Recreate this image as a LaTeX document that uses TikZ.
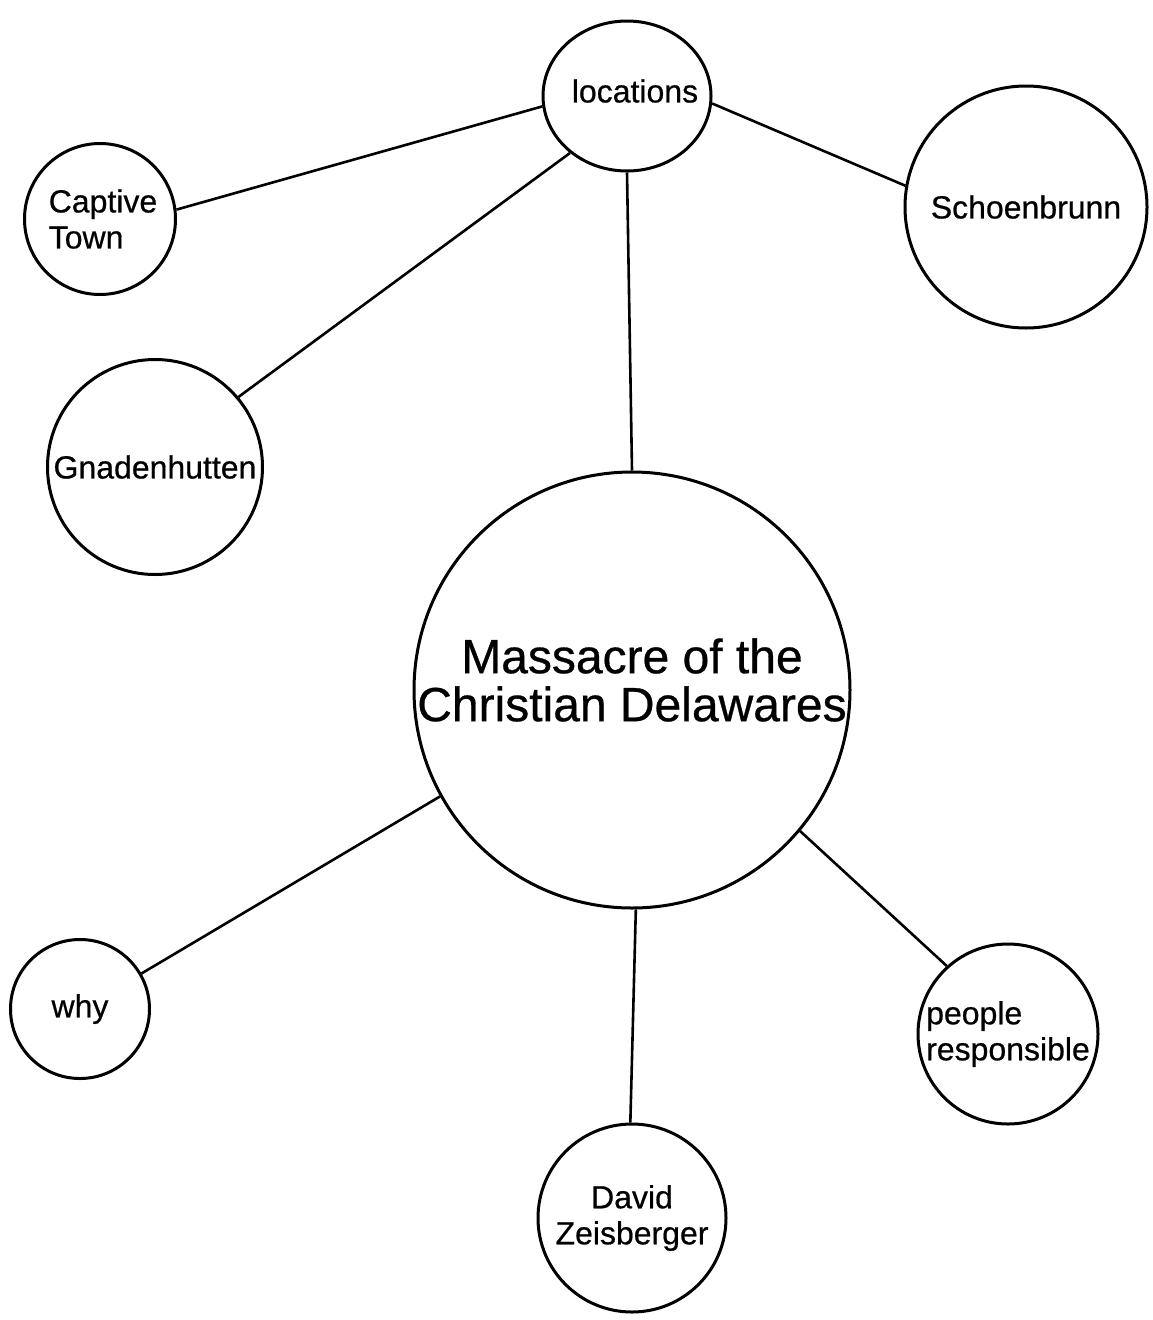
\documentclass[tikz,border=0pt]{standalone}
\usepackage{fontspec}
\setmainfont{Liberation Sans}[FakeBold=0.6]
\usetikzlibrary{shapes.geometric}
\begin{document}
\begin{tikzpicture}[x=1pt,y=-1pt,
  bubble/.style={draw, circle, line width=3pt, inner sep=0pt, align=center,
    font=\fontsize{32}{36}\selectfont},
  label text/.style={inner sep=0pt, align=center},
  link/.style={line width=2.6pt}]
\useasboundingbox (0,0) rectangle (1152,1320);
\fill[white] (0,0) rectangle (1152,1320);

% central topic: outline and title set separately so the title may fill it
\node[bubble, minimum size=436pt] (main) at (632,690) {};
\node[label text, font=\fontsize{48}{48}\selectfont] (maintext) at (632,680)
  {Massacre of the\\Christian Delawares};

% locations branch
\node[draw, ellipse, line width=3pt, inner sep=0pt, minimum width=168pt, minimum height=150pt]
  (loc) at (627,96) {};
\node[label text, font=\fontsize{32}{36}\selectfont] (loctext) at (635,91) {locations};
\node[bubble, minimum size=151pt, align=left] (captive) at (100,219) {\hspace*{6pt}Captive\\\hspace*{6pt}Town};
\node[bubble, minimum size=242pt] (schoen) at (1026,207) {Schoenbrunn};
\node[bubble, minimum size=215pt] (gnaden) at (155,467) {Gnadenhutten};

% other branches
\node[bubble, minimum size=139pt] (why) at (80,1009) {why};
\node[bubble, minimum size=180pt, align=left] (people) at (1008,1034) {people\\responsible};
\node[bubble, minimum size=188pt] (david) at (632,1218) {David\\Zeisberger};

% connectors
\draw[link] (loc.187) -- (captive.7);
\draw[link] (loc.225) -- (gnaden.40);
\draw[link] (loc.-5) -- (schoen.170);
\draw[link] (loc.south) -- (main.north);
\draw[link] (main.209) -- (why.30);
\draw[link] (main.-89) -- (david.91);
\draw[link] (main.-40) -- (people.132);
\end{tikzpicture}
\end{document}
